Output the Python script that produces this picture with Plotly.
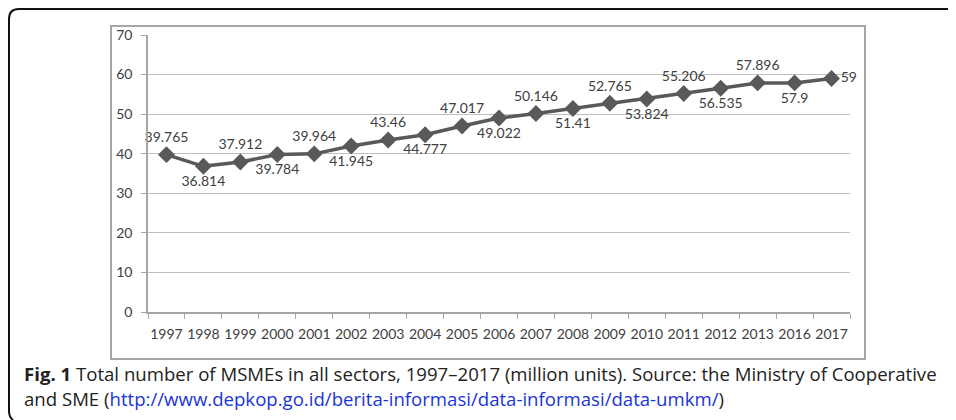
import plotly.graph_objects as go

years = ["1997", "1998", "1999", "2000", "2001", "2002", "2003", "2004", "2005", "2006",
         "2007", "2008", "2009", "2010", "2011", "2012", "2013", "2016", "2017"]
units = [39.765, 36.814, 37.912, 39.784, 39.964, 41.945, 43.46, 44.777, 47.017, 49.022,
         50.146, 51.41, 52.765, 53.824, 55.206, 56.535, 57.896, 57.9, 59]
labels = ["39.765", "36.814", "37.912", "39.784", "39.964", "41.945", "43.46", "44.777", "47.017", "49.022",
          "50.146", "51.41", "52.765", "53.824", "55.206", "56.535", "57.896", "57.9", "59"]
y_ticks = [0, 10, 20, 30, 40, 50, 60, 70]

W, H = 956, 420
OFF = 8  # page body margin: screen px = figure px + 8
# plot area in screen pixels
SL, SR, ST, SB = 148, 850, 35, 312
L, R, T, B = SL - OFF, SR - OFF, ST - OFF, SB - OFF

positions = []
for i in range(len(years)):
    if i == len(years) - 1:
        positions.append("middle right")
    elif i % 2 == 0:
        positions.append("top center")
    else:
        positions.append("bottom center")

CHART_FONT = "Lato, Carlito, Calibri, sans-serif"
CAP_FONT = "Open Sans, sans-serif"

fig = go.Figure(go.Scatter(
    x=years, y=units, mode="lines+markers+text",
    text=labels, textposition=positions,
    textfont=dict(family=CHART_FONT, size=14, color="#404040"),
    line=dict(color="#595959", width=3.5),
    marker=dict(symbol="diamond", size=13, color="#595959"),
    cliponaxis=False, showlegend=False, hoverinfo="x+y",
))

def px(x):  # screen x -> paper
    return (x - SL) / (SR - SL)

def py(y):  # screen y -> paper
    return (SB - y) / (SB - ST)

shapes = [
    # inner chart frame
    dict(type="rect", xref="paper", yref="paper",
         x0=px(111), x1=px(865), y0=py(26), y1=py(359),
         line=dict(color="#a6a6a6", width=2), fillcolor="rgba(0,0,0,0)", layer="below"),
    # outer rounded border (top + left)
    dict(type="path", xref="paper", yref="paper",
         path=(f"M {px(970)},{py(9)} L {px(19)},{py(9)} "
               f"Q {px(9)},{py(9)} {px(9)},{py(19)} "
               f"L {px(9)},{py(411)} Q {px(9)},{py(417)} {px(13)},{py(420)}"),
         line=dict(color="#111111", width=2)),
]

annotations = [
    dict(xref="paper", yref="paper", x=px(22), y=py(373), xanchor="left", yanchor="middle",
         showarrow=False, align="left",
         text="<b>Fig. 1</b> Total number of MSMEs in all sectors, 1997–2017 (million units). "
              "Source: the Ministry of Cooperative",
         font=dict(family=CAP_FONT, size=18.6, color="#222222")),
    dict(xref="paper", yref="paper", x=px(22), y=py(398), xanchor="left", yanchor="middle",
         showarrow=False, align="left",
         text="and SME (<span style='color:#1a35d6'>http://www.depkop.go.id/berita-informasi/"
              "data-informasi/data-umkm/</span>)",
         font=dict(family=CAP_FONT, size=18.6, color="#222222")),
]

fig.update_layout(
    width=W, height=H,
    margin=dict(l=L, r=W - R, t=T, b=H - B, pad=0),
    paper_bgcolor="white", plot_bgcolor="white",
    shapes=shapes, annotations=annotations,
    xaxis=dict(type="category", range=[-0.5, len(years) - 0.5],
               showgrid=False, showline=True, linecolor="#a6a6a6", linewidth=1.5,
               ticks="outside", tickson="boundaries", ticklen=5, tickcolor="#a6a6a6",
               tickangle=0, ticklabelstandoff=8,
               tickfont=dict(family=CHART_FONT, size=14, color="#404040"),
               fixedrange=True),
    yaxis=dict(range=[0, 70], tickvals=y_ticks, showgrid=True, gridcolor="#bfbfbf",
               gridwidth=1.2, zeroline=False, showline=True, linecolor="#a6a6a6",
               linewidth=1.5, ticks="outside", ticklen=5, tickcolor="#a6a6a6",
               ticklabelstandoff=6,
               tickfont=dict(family=CHART_FONT, size=14, color="#404040"),
               fixedrange=True),
)

fig.write_html("out.html")
